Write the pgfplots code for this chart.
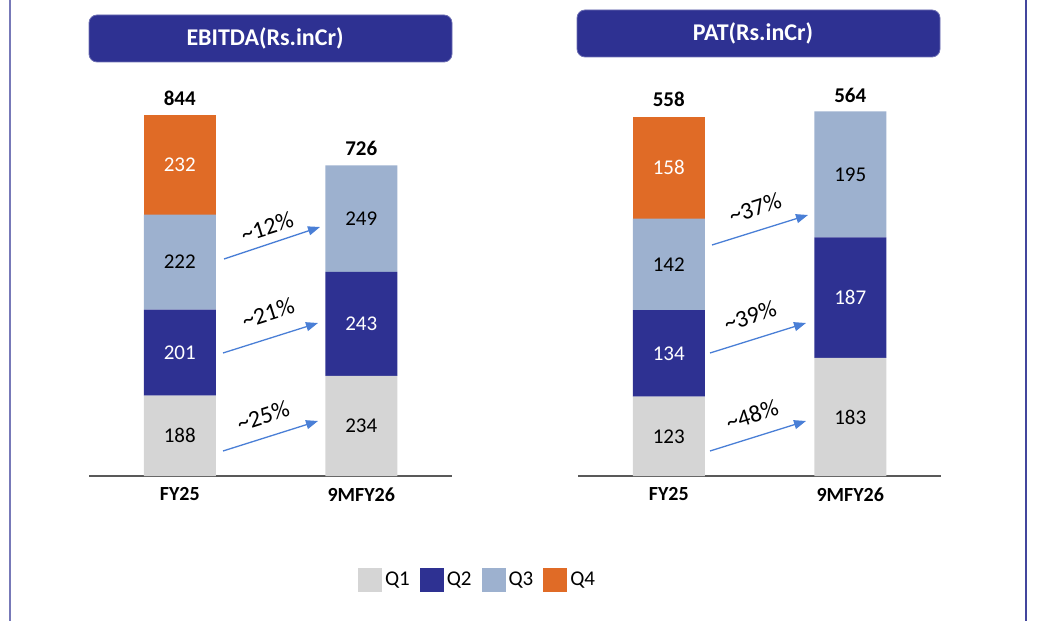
\documentclass[border=0pt]{standalone}
\usepackage{pgfplots}
\pgfplotsset{compat=1.18}
\usepackage{fontspec}
\setmainfont{Carlito}
\usetikzlibrary{arrows.meta}

\definecolor{qone}{HTML}{D5D5D5}
\definecolor{qtwo}{HTML}{2E3192}
\definecolor{qthree}{HTML}{9DB1CF}
\definecolor{qfour}{HTML}{E06B26}
\definecolor{arrowblue}{HTML}{4A7FD6}
\definecolor{baseln}{HTML}{595959}

\pgfplotsset{
  panel/.style={
    scale only axis, width=181.5pt,
    anchor=south west,
    xmin=-0.5, xmax=1.5, ymin=0,
    ybar stacked, bar width=36pt,
    axis x line*=bottom, axis y line=none,
    x axis line style={draw=baseln, line width=0.9pt},
    xtick={0,1}, xticklabels={FY25,9MFY26},
    major tick length=0pt,
    xticklabel style={font=\bfseries\fontsize{10}{12}\selectfont, text=black,
      inner sep=0pt, anchor=north, yshift=-5.5pt},
    clip=false,
    point meta=explicit symbolic,
    nodes near coords={\pgfplotspointmeta},
    every node near coord/.append style={anchor=center, inner sep=0pt,
      font=\fontsize{10.5}{12}\selectfont},
  },
}
\tikzset{
  total/.style={anchor=south, inner sep=0pt, yshift=4.5pt,
    font=\bfseries\fontsize{10.5}{12}\selectfont},
  growth/.style={draw=arrowblue, line width=0.65pt, -{Triangle[length=6pt,width=4.5pt]}},
  pct/.style={font=\fontsize{12}{14}\selectfont, rotate=17.5, inner sep=0pt},
}

\begin{document}
\begin{tikzpicture}
\useasboundingbox (0,0) rectangle (523.5pt,310.5pt);

% EBITDA
\begin{axis}[panel, at={(44.5pt,72.5pt)}, y=0.213863pt, ymax=844,
  legend columns=4,
  legend style={draw=none, fill=none, at={(axis cs:0.98,-243)}, anchor=west,
    font=\fontsize{10.5}{12}\selectfont, inner sep=0pt,
    nodes={inner sep=1.5pt},
    /tikz/every even column/.append style={column sep=3.5pt}},
  legend image code/.code={\fill[#1] (0pt,-6pt) rectangle (12pt,6pt);},
  ]
\addplot[fill=qone, draw=none] coordinates {(0,188) [188] (1,234) [234]};
\addplot[fill=qtwo, draw=none, every node near coord/.append style={text=white}]
  coordinates {(0,201) [201] (1,243) [243]};
\addplot[fill=qthree, draw=none] coordinates {(0,222) [222] (1,249) [249]};
\addplot[fill=qfour, draw=none, every node near coord/.append style={text=white}]
  coordinates {(0,232) [232]};
\legend{Q1,Q2,Q3,Q4}
\node[total] at (axis cs:0,844) {844};
\node[total] at (axis cs:1,726) {726};
\end{axis}

% PAT
\begin{axis}[panel, at={(289pt,72.5pt)}, y=0.3226pt, ymax=560]
\addplot[fill=qone, draw=none] coordinates {(0,123) [123] (1,183) [183]};
\addplot[fill=qtwo, draw=none, every node near coord/.append style={text=white}]
  coordinates {(0,134) [134] (1,187) [187]};
\addplot[fill=qthree, draw=none] coordinates {(0,142) [142] (1,195) [195]};
\addplot[fill=qfour, draw=none, every node near coord/.append style={text=white}]
  coordinates {(0,158) [158]};
\node[total] at (axis cs:0,558) {558};
\node[total] at (axis cs:1,564) {564};
\end{axis}

% frame, titles and growth arrows (pixel grid of the slide)
\begin{scope}[shift={(0pt,310.5pt)}, x=0.5pt, y=-0.5pt]
  \draw[draw=qtwo!65, line width=1pt] (10,0) -- (10,621);
  \draw[draw=qtwo!90, line width=0.8pt] (1026,0) -- (1026,621);
  \filldraw[fill=qtwo, draw=qtwo!70, line width=0.4pt, rounded corners=4pt] (89,15) rectangle (452,62);
  \node[text=white, font=\bfseries\fontsize{12}{14}\selectfont] at (265,38.5) {EBITDA(Rs.inCr)};
  \filldraw[fill=qtwo, draw=qtwo!70, line width=0.4pt, rounded corners=4pt] (577,10) rectangle (940,57);
  \node[text=white, font=\bfseries\fontsize{12}{14}\selectfont] at (753,33.5) {PAT(Rs.inCr)};

  \draw[growth] (224,259) -- (320,227);
  \node[pct] at (267,227) {\textasciitilde12\%};
  \draw[growth] (223,353) -- (318,323);
  \node[pct] at (268,313) {\textasciitilde21\%};
  \draw[growth] (223,451) -- (318,421);
  \node[pct] at (263,416) {\textasciitilde25\%};

  \draw[growth] (712,245) -- (808,215);
  \node[pct] at (755,208) {\textasciitilde37\%};
  \draw[growth] (710,353) -- (806,323);
  \node[pct] at (750,316) {\textasciitilde39\%};
  \draw[growth] (710,451) -- (806,421);
  \node[pct] at (752,415) {\textasciitilde48\%};
\end{scope}
\end{tikzpicture}
\end{document}
